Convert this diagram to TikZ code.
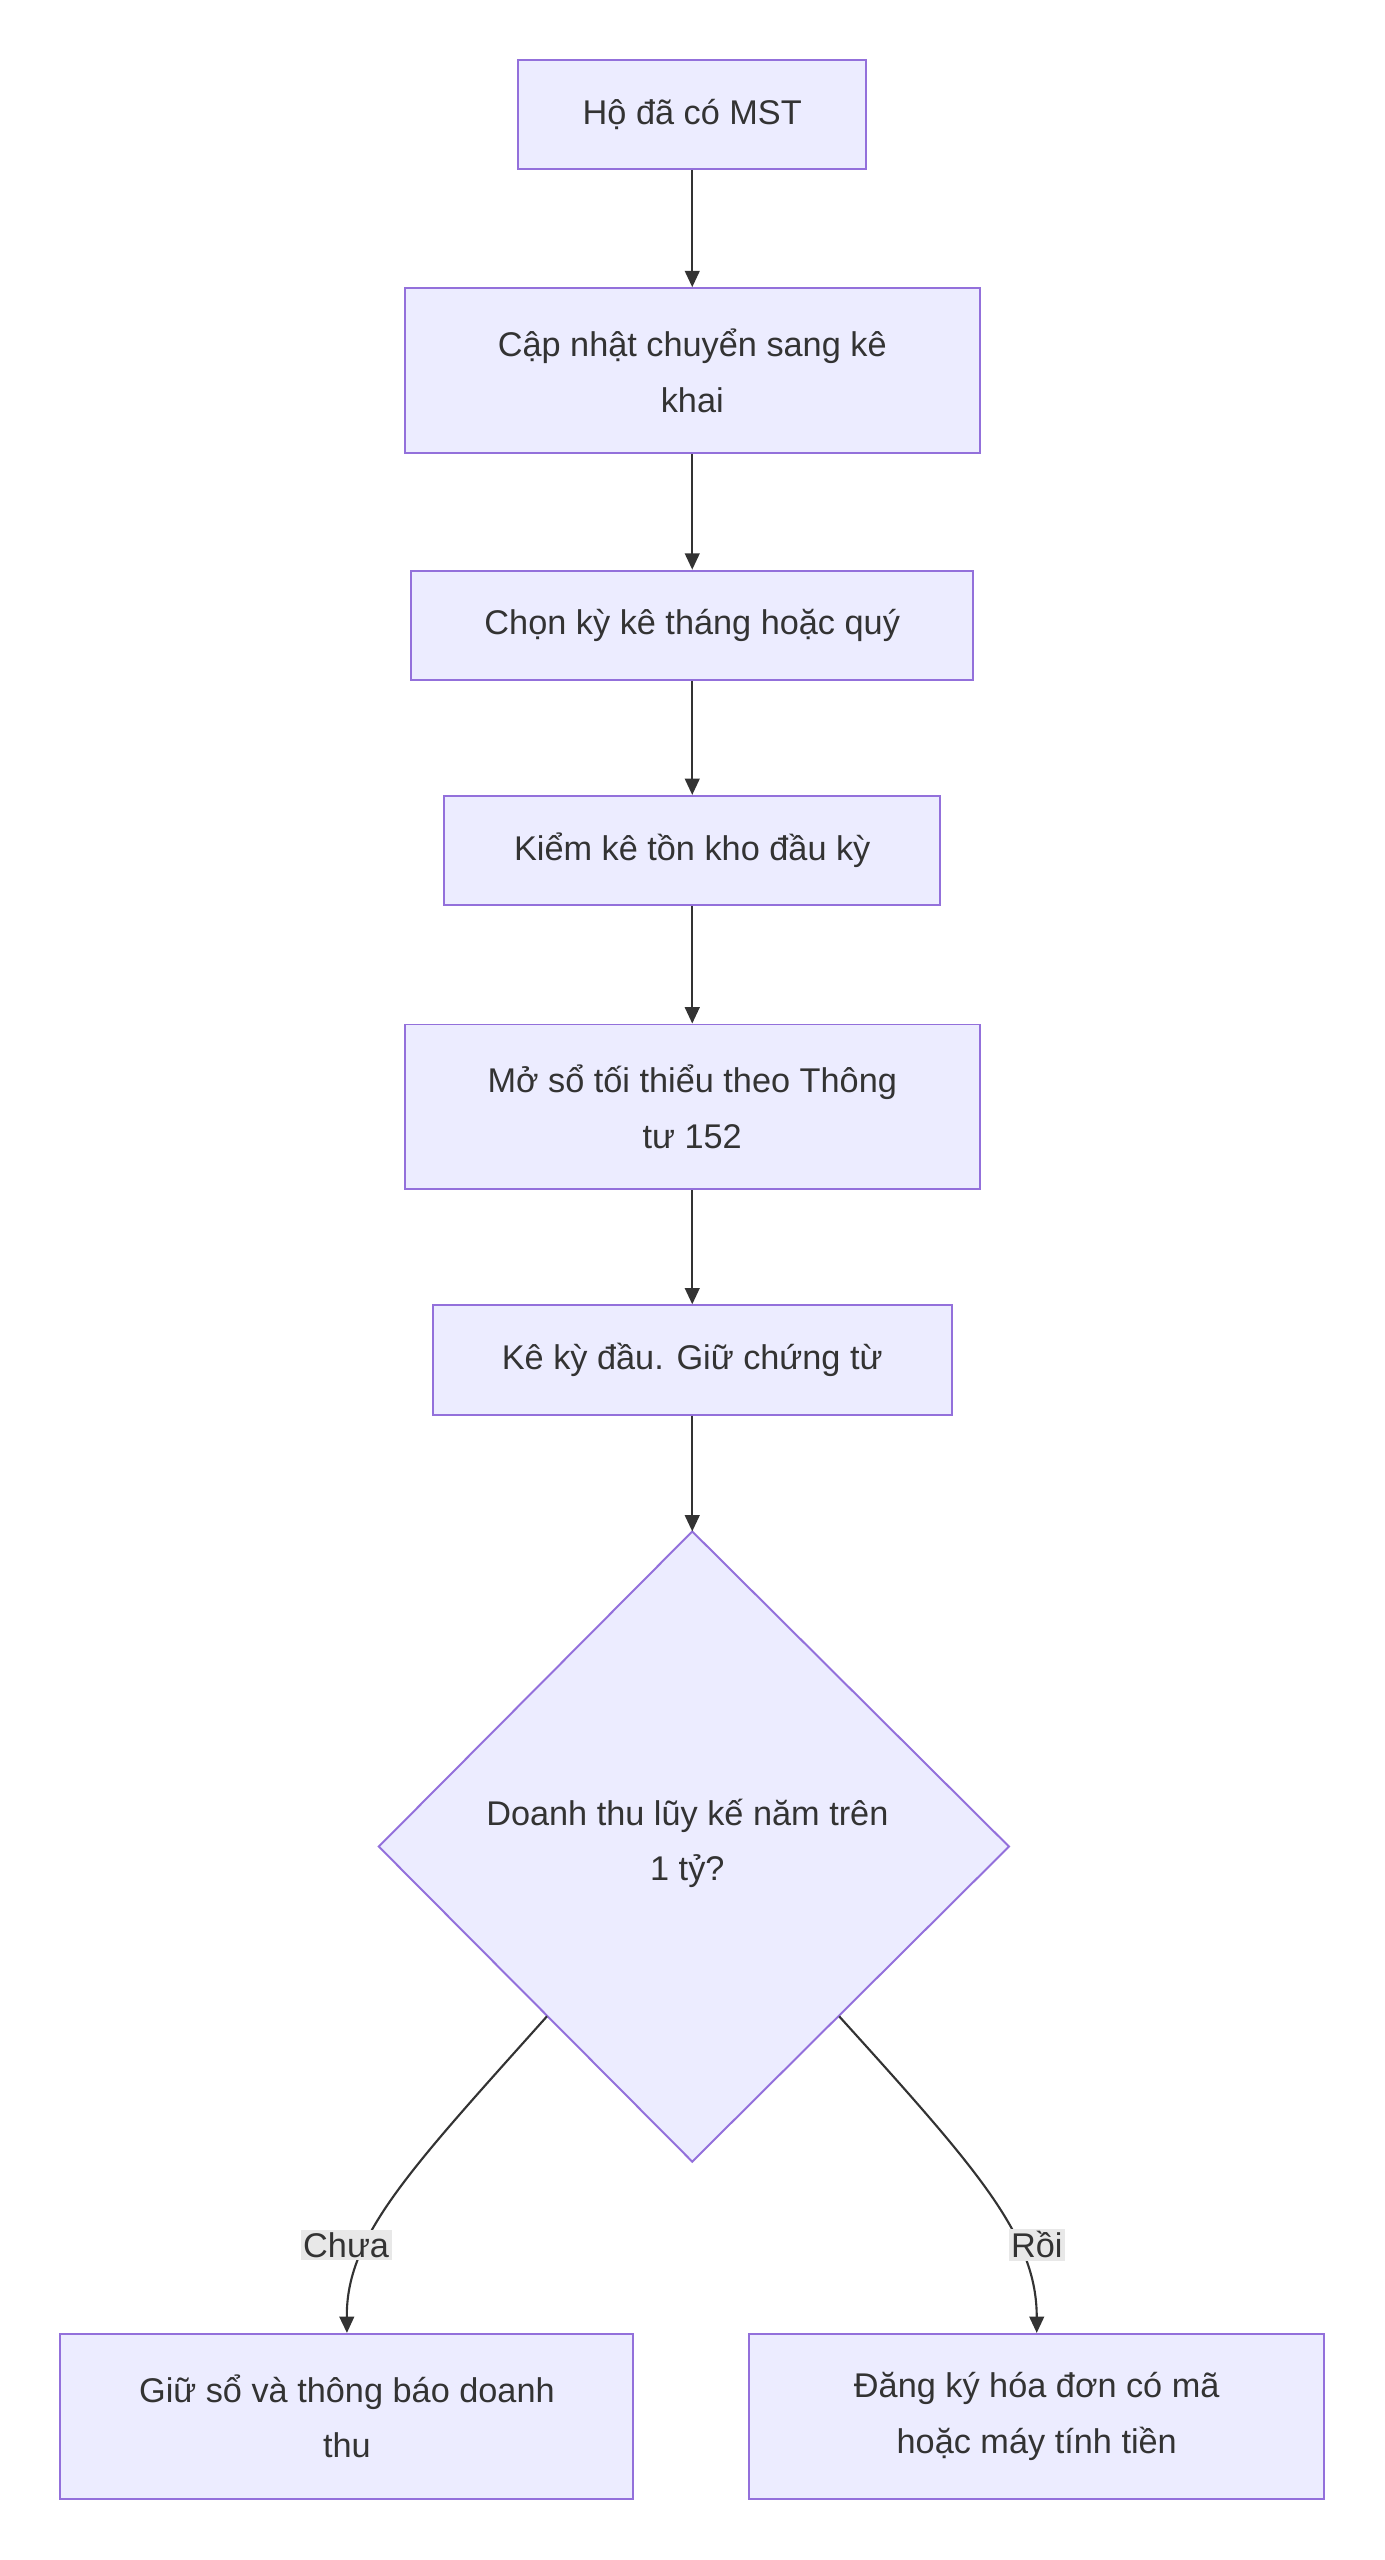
\documentclass[tikz,border=0pt]{standalone}
\usepackage{fontspec}
\setmainfont{Liberation Sans}
\usetikzlibrary{shapes.geometric,arrows.meta}
\definecolor{fillc}{HTML}{ECECFF}
\definecolor{strokec}{HTML}{9370DB}
\definecolor{txt}{HTML}{333333}
\definecolor{lab}{HTML}{E8E8E8}
\begin{document}
\begin{tikzpicture}[x=1pt,y=-1pt,
 box/.style={draw=strokec,fill=fillc,line width=1.2pt,text=txt,align=center,inner sep=0pt,font=\fontsize{21}{34}\selectfont},
 arr/.style={draw=txt,line width=1.3pt,-{Triangle[length=10pt,width=9pt]}},
 lbl/.style={fill=lab,text=txt,inner sep=1.5pt,font=\fontsize{21}{26}\selectfont}]
\useasboundingbox (0,0) rectangle (848,1568);
\node[box,minimum width=213pt,minimum height=67pt] (a) at (424,70) {Hộ đã có MST};
\node[box,minimum width=352pt,minimum height=101pt] (b) at (424,227) {Cập nhật chuyển sang kê\\khai};
\node[box,minimum width=344pt,minimum height=67pt] (c) at (424,383) {Chọn kỳ kê tháng hoặc quý};
\node[box,minimum width=304pt,minimum height=67pt] (d) at (424,521) {Kiểm kê tồn kho đầu kỳ};
\node[box,minimum width=352pt,minimum height=101pt] (e) at (424,678) {Mở sổ tối thiểu theo Thông\\tư 152};
\node[box,minimum width=318pt,minimum height=67pt] (f) at (424,833) {Kê kỳ đầu. Giữ chứng từ};
\draw[draw=strokec,fill=fillc,line width=1.2pt] (424,938) -- (618,1131) -- (424,1324) -- (232,1131) -- cycle;
\node[text=txt,align=center,font=\fontsize{21}{34}\selectfont] (g) at (421,1129) {Doanh thu lũy kế năm trên\\1 tỷ?};
\coordinate (gt) at (424,938);
\coordinate (gl) at (335,1235);
\coordinate (gr) at (514,1235);
\node[box,minimum width=351pt,minimum height=101pt] (h) at (212.5,1480) {Giữ sổ và thông báo doanh\\thu};
\node[box,minimum width=352pt,minimum height=101pt] (i) at (635,1480) {Đăng ký hóa đơn có mã\\hoặc máy tính tiền};
\draw[arr] (a) -- (b);
\draw[arr] (b) -- (c);
\draw[arr] (c) -- (d);
\draw[arr] (d) -- (e);
\draw[arr] (e) -- (f);
\draw[arr] (f) -- (gt);
\draw[arr] (gl) .. controls (250,1330) and (212,1370) .. (h.north);
\draw[arr] (gr) .. controls (600,1330) and (635,1370) .. (i.north);
\node[lbl] at (212,1375) {Chưa};
\node[lbl] at (635,1375) {Rồi};
\end{tikzpicture}
\end{document}
